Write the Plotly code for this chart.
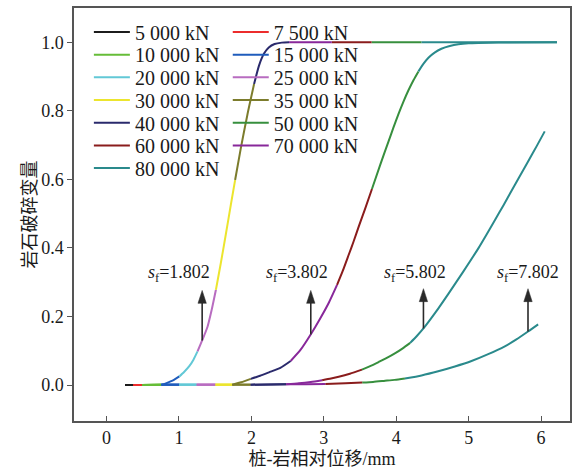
import numpy as np
import plotly.graph_objects as go

# Load steps (kN), legend labels and line colours
loads = [5000, 7500, 10000, 15000, 20000, 25000, 30000, 35000, 40000, 50000, 60000, 70000, 80000]
load_labels = ["5 000 kN", "7 500 kN", "10 000 kN", "15 000 kN", "20 000 kN", "25 000 kN",
               "30 000 kN", "35 000 kN", "40 000 kN", "50 000 kN", "60 000 kN", "70 000 kN", "80 000 kN"]
load_colors = ["#1c1c1c", "#ec2c2c", "#66bd38", "#1f5cbc", "#62c8d6", "#b86cc0",
               "#ece52e", "#7c7c2c", "#2a2a6c", "#378f3e", "#8a1c1c", "#88289a", "#2a8a8c"]

# Curve sf = 1.802 : displacement (mm), damage variable, load reached at each point (kN)
c1_x = [0.255, 0.372, 0.495, 0.757, 0.810, 0.867, 0.930, 1.005, 1.070, 1.142, 1.200, 1.256,
        1.320, 1.394, 1.450, 1.510, 1.578, 1.647, 1.716, 1.775, 1.854, 1.944, 2.037, 2.105,
        2.174, 2.240, 2.320, 2.420, 2.520, 3.110, 3.660, 4.350, 6.220]
c1_y = [0.000, 0.000, 0.000, 0.001, 0.004, 0.009, 0.015, 0.025, 0.038, 0.055, 0.074, 0.098,
        0.130, 0.170, 0.218, 0.278, 0.356, 0.440, 0.526, 0.598, 0.691, 0.788, 0.878, 0.932,
        0.967, 0.985, 0.995, 0.999, 1.000, 1.000, 1.000, 1.000, 1.000]
c1_load = [5000, 5000, 7500, 10000, 15000, 15000, 15000, 15000, 20000, 20000, 20000, 20000,
           25000, 25000, 25000, 25000, 30000, 30000, 30000, 30000, 35000, 35000, 35000, 40000,
           40000, 40000, 40000, 40000, 40000, 70000, 60000, 50000, 80000]

# Curve sf = 3.802
c2_x = [0.255, 0.372, 0.495, 0.757, 1.005, 1.245, 1.505, 1.738, 1.860, 1.991, 2.120, 2.243,
        2.400, 2.542, 2.680, 2.821, 2.950, 3.069, 3.183, 3.260, 3.344, 3.410, 3.482, 3.570,
        3.665, 3.780, 3.894, 3.960, 4.032, 4.100, 4.169, 4.240, 4.307, 4.375, 4.445, 4.530,
        4.624, 4.740, 4.858, 5.000, 5.133, 5.408, 6.220]
c2_y = [0.000, 0.000, 0.000, 0.001, 0.001, 0.001, 0.001, 0.001, 0.008, 0.018, 0.027, 0.037,
        0.050, 0.070, 0.103, 0.148, 0.194, 0.240, 0.292, 0.332, 0.380, 0.418, 0.462, 0.514,
        0.572, 0.643, 0.711, 0.750, 0.791, 0.827, 0.860, 0.890, 0.915, 0.937, 0.955, 0.970,
        0.981, 0.989, 0.994, 0.997, 0.998, 0.999, 1.000]
c2_load = [5000, 5000, 7500, 10000, 15000, 20000, 25000, 30000, 35000, 35000, 40000, 40000,
           40000, 40000, 70000, 70000, 70000, 70000, 70000, 60000, 60000, 60000, 60000, 60000,
           60000, 50000, 50000, 50000, 50000, 50000, 50000, 50000, 50000, 80000, 80000, 80000,
           80000, 80000, 80000, 80000, 80000, 80000, 80000]

# Curve sf = 5.802
c3_x = [0.255, 0.372, 0.495, 0.757, 1.005, 1.245, 1.505, 1.735, 1.990, 2.480, 2.656, 2.820,
        2.977, 3.100, 3.206, 3.360, 3.527, 3.640, 3.757, 3.870, 3.987, 4.090, 4.193, 4.285,
        4.376, 4.550, 4.720, 4.926, 5.132, 5.250, 5.362, 5.480, 5.591, 5.700, 5.821, 5.940,
        6.051]
c3_y = [0.000, 0.000, 0.000, 0.001, 0.001, 0.001, 0.001, 0.001, 0.001, 0.002, 0.005, 0.009,
        0.014, 0.019, 0.024, 0.033, 0.045, 0.055, 0.067, 0.079, 0.093, 0.107, 0.123, 0.143,
        0.165, 0.214, 0.266, 0.331, 0.398, 0.440, 0.481, 0.524, 0.566, 0.607, 0.652, 0.697,
        0.740]
c3_load = [5000, 5000, 7500, 10000, 15000, 20000, 25000, 30000, 35000, 40000, 70000, 70000,
           70000, 60000, 60000, 60000, 60000, 50000, 50000, 50000, 50000, 50000, 50000, 80000,
           80000, 80000, 80000, 80000, 80000, 80000, 80000, 80000, 80000, 80000, 80000, 80000,
           80000]

# Curve sf = 7.802
c4_x = [0.255, 0.372, 0.495, 0.757, 1.005, 1.245, 1.505, 1.735, 1.990, 2.480, 2.750, 3.020,
        3.300, 3.530, 3.680, 3.830, 3.980, 4.120, 4.350, 4.580, 4.810, 5.040, 5.270, 5.500,
        5.660, 5.820, 5.960]
c4_y = [0.000, 0.000, 0.000, 0.001, 0.001, 0.001, 0.001, 0.001, 0.001, 0.002, 0.002, 0.003,
        0.005, 0.007, 0.009, 0.012, 0.015, 0.019, 0.028, 0.040, 0.054, 0.070, 0.090, 0.113,
        0.133, 0.156, 0.177]
c4_load = [5000, 5000, 7500, 10000, 15000, 20000, 25000, 30000, 35000, 40000, 70000, 70000,
           60000, 60000, 50000, 50000, 50000, 50000, 80000, 80000, 80000, 80000, 80000, 80000,
           80000, 80000, 80000]

curves = [(c1_x, c1_y, c1_load), (c2_x, c2_y, c2_load),
          (c3_x, c3_y, c3_load), (c4_x, c4_y, c4_load)]

# Arrow annotations for each curve
sf_values = [1.802, 3.802, 5.802, 7.802]
arrow_x = [1.32, 2.82, 4.376, 5.82]
arrow_tip_y = [0.276, 0.276, 0.281, 0.281]
label_x = [1.005, 2.635, 4.259, 5.821]
label_y = 0.325

FONT = "Liberation Serif, Times New Roman, Noto Sans CJK SC, serif"
TEXT_COLOR = "#1a1a1a"
ARROW_COLOR = "#2a2a2a"

# Figure / plot-area geometry
WIDTH, HEIGHT = 574, 469
MARGIN_L, MARGIN_R, MARGIN_T, MARGIN_B = 74, 2, 8, 46
PLOT_W = WIDTH - MARGIN_L - MARGIN_R
PLOT_H = HEIGHT - MARGIN_T - MARGIN_B
X_RANGE = [-0.45, 6.4]
Y_RANGE = [-0.105, 1.1]
X_PER_PX = (X_RANGE[1] - X_RANGE[0]) / PLOT_W
Y_PER_PX = (Y_RANGE[1] - Y_RANGE[0]) / PLOT_H

# Legend rows: two columns at a fixed pitch
ROW0_TOP_PX, ROW_STEP_PX = 12.5, 22.8
COL_X = [0.03, 0.31]
LEGEND_FONT_SIZE = 20

# Arrowhead size in pixels
HEAD_LEN_PX, HEAD_HALF_W_PX = 13, 4.2

fig = go.Figure()

# One trace per load step, collecting that step's stretch of every curve;
# each load gets its own legend box so rows sit at a fixed pitch.
layout_legends = {}
for k, load in enumerate(loads):
    xs, ys = [], []
    for cx, cy, cl in curves:
        idx = [i for i, v in enumerate(cl) if v == load]
        if not idx:
            continue
        start = max(min(idx) - 1, 0)
        stop = max(idx)
        xs += cx[start:stop + 1] + [None]
        ys += cy[start:stop + 1] + [None]
    legend_id = "legend" if k == 0 else f"legend{k + 1}"
    fig.add_trace(go.Scatter(
        x=xs, y=ys, mode="lines", name=load_labels[k], showlegend=True,
        line=dict(color=load_colors[k], width=2, shape="spline", smoothing=0.6),
        legend=legend_id,
    ))
    row, col = k // 2, k % 2
    top_px = ROW0_TOP_PX + ROW_STEP_PX * row
    layout_legends[legend_id] = dict(
        x=COL_X[col], y=1 - (top_px - MARGIN_T) / PLOT_H,
        xanchor="left", yanchor="top", orientation="v",
        font=dict(family=FONT, size=LEGEND_FONT_SIZE, color=TEXT_COLOR),
        bgcolor="rgba(0,0,0,0)", borderwidth=0, itemwidth=36,
    )

# Arrows (shaft + filled head) from each curve up to its sf label
shapes = []
annotations = []
head_len = HEAD_LEN_PX * Y_PER_PX
head_half_w = HEAD_HALF_W_PX * X_PER_PX
for i, sf in enumerate(sf_values):
    cx, cy, _ = curves[i]
    base_y = float(np.interp(arrow_x[i], cx, cy))
    ax_, tip = arrow_x[i], arrow_tip_y[i]
    shapes.append(dict(
        type="line", xref="x", yref="y",
        x0=ax_, x1=ax_, y0=base_y, y1=tip - head_len * 0.9,
        line=dict(color=ARROW_COLOR, width=1.6),
    ))
    shapes.append(dict(
        type="path", xref="x", yref="y",
        path=(f"M{ax_ - head_half_w},{tip - head_len} L{ax_},{tip} "
              f"L{ax_ + head_half_w},{tip - head_len} Z"),
        fillcolor=ARROW_COLOR, line=dict(color=ARROW_COLOR, width=0.5),
    ))
    annotations.append(dict(
        x=label_x[i], y=label_y, xref="x", yref="y", showarrow=False,
        text="<i>s</i><sub>f</sub>=" + f"{sf:.3f}",
        font=dict(family=FONT, size=18, color=TEXT_COLOR),
    ))

fig.update_layout(
    width=WIDTH, height=HEIGHT,
    margin=dict(l=MARGIN_L, r=MARGIN_R, t=MARGIN_T, b=MARGIN_B),
    paper_bgcolor="white", plot_bgcolor="white",
    font=dict(family=FONT, size=18, color=TEXT_COLOR),
    showlegend=True,
    shapes=shapes,
    annotations=annotations,
    xaxis=dict(
        range=X_RANGE, tickvals=[0, 1, 2, 3, 4, 5, 6],
        ticks="inside", ticklen=5, tickwidth=1.2, tickcolor="#555",
        showline=True, linecolor="#555", linewidth=1.5, mirror=True,
        showgrid=False, zeroline=False,
        tickfont=dict(family=FONT, size=18, color=TEXT_COLOR),
        title=dict(text="桩-岩相对位移/mm", standoff=6,
                   font=dict(family=FONT, size=18, color=TEXT_COLOR)),
    ),
    yaxis=dict(
        range=Y_RANGE, tickvals=[0, 0.2, 0.4, 0.6, 0.8, 1.0], tickformat=".1f",
        ticks="outside", ticklen=5, tickwidth=1.2, tickcolor="#555",
        showline=True, linecolor="#555", linewidth=1.5, mirror=True,
        showgrid=False, zeroline=False,
        tickfont=dict(family=FONT, size=18, color=TEXT_COLOR),
        title=dict(text="岩石破碎变量", standoff=0,
                   font=dict(family=FONT, size=18, color=TEXT_COLOR)),
    ),
)
fig.update_layout(**layout_legends)

fig.write_html("out.html")
